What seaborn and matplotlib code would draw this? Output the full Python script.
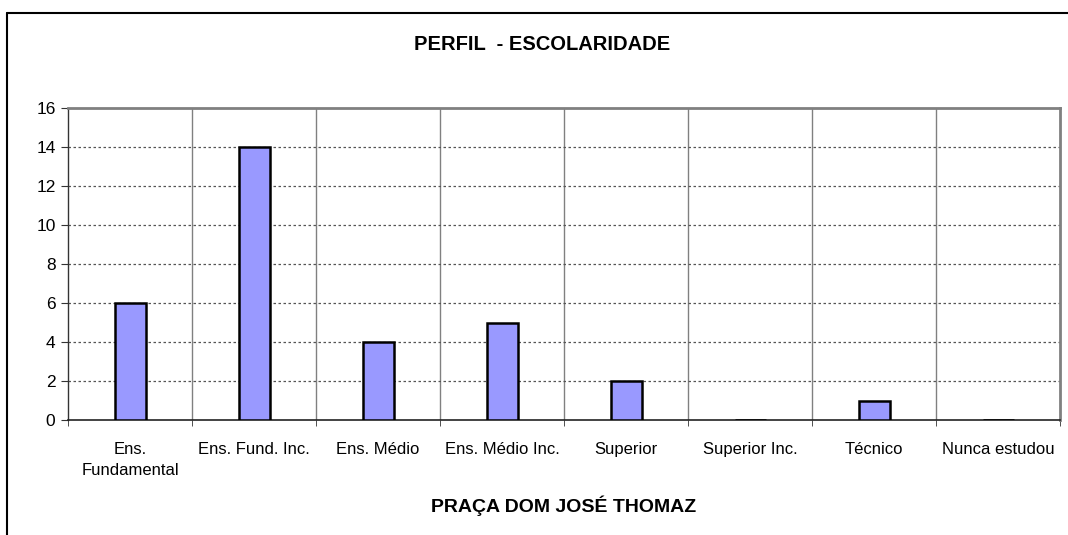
import matplotlib
matplotlib.use("Agg")
import matplotlib.pyplot as plt
from matplotlib.lines import Line2D
import pandas as pd
import seaborn as sns

categories = ["Ens.\nFundamental", "Ens. Fund. Inc.", "Ens. Médio", "Ens. Médio Inc.",
              "Superior", "Superior Inc.", "Técnico", "Nunca estudou"]
counts = [6, 14, 4, 5, 2, 0, 1, 0]
y_ticks = [0, 2, 4, 6, 8, 10, 12, 14, 16]

title = "PERFIL  - ESCOLARIDADE"
x_title = "PRAÇA DOM JOSÉ THOMAZ"

sns.set_style("white")
plt.rcParams["font.family"] = ["Liberation Sans", "DejaVu Sans"]
plt.rcParams["text.color"] = "black"
plt.rcParams["xtick.color"] = "black"
plt.rcParams["ytick.color"] = "black"
plt.rcParams["axes.labelcolor"] = "black"

df = pd.DataFrame({"categoria": categories, "n": counts})

fig = plt.figure(figsize=(10.68, 5.35), dpi=100)
ax = fig.add_axes([68 / 1068, 115 / 535, (1060 - 68) / 1068, (420 - 108) / 535])

sns.barplot(data=df, x="categoria", y="n", color="#9999FF", saturation=1,
            width=0.25, edgecolor="black", linewidth=1.8, ax=ax, zorder=3)

ax.set_ylim(0, 16)
ax.set_xlim(-0.5, len(categories) - 0.5)
ax.set_yticks(y_ticks)
ax.tick_params(axis="y", labelsize=12.5, length=5, direction="out", left=True,
               color="#333333", pad=4)
ax.tick_params(axis="x", labelsize=12, length=0, pad=16)
for lbl in ax.get_xticklabels():
    lbl.set_linespacing(1.45)

# category separators and dotted horizontal grid
for k in range(1, len(categories)):
    ax.axvline(k - 0.5, color="#808080", lw=1, zorder=1)
for v in y_ticks[1:-1]:
    ax.axhline(v, color="#555555", lw=0.9, ls=(0, (2, 2)), zorder=1)

ax.set_xticks([k - 0.5 for k in range(len(categories) + 1)], minor=True)
ax.tick_params(axis="x", which="minor", length=4, color="#333333", bottom=True)

for side in ["top", "right"]:
    ax.spines[side].set_color("#808080")
    ax.spines[side].set_linewidth(2)
ax.spines["left"].set_color("#333333")
ax.spines["bottom"].set_color("#222222")
ax.spines["left"].set_linewidth(1)
ax.spines["bottom"].set_linewidth(1.2)

ax.set_ylabel("")
ax.set_xlabel(x_title, fontsize=14, fontweight="bold", labelpad=13)
fig.text(0.508, 1 - 45 / 535, title, ha="center", va="center",
         fontsize=14.5, fontweight="bold")

# outer chart frame
top_y = 1 - 13 / 535
left_x = 7 / 1068
fig.add_artist(Line2D([left_x, 1.0], [top_y, top_y], color="black", lw=1.5))
fig.add_artist(Line2D([left_x, left_x], [0, top_y], color="black", lw=1.5))

fig.savefig("out.png", dpi=100)
